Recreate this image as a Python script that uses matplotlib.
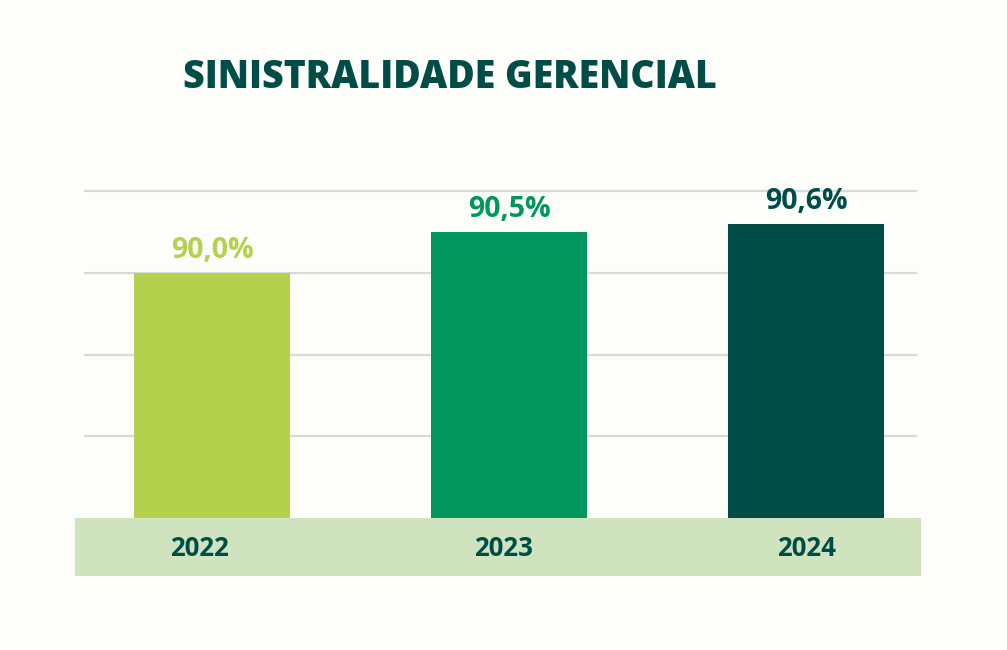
import matplotlib
matplotlib.use("Agg")
import matplotlib.pyplot as plt
from matplotlib.patches import Rectangle

years = ["2022", "2023", "2024"]
values = [90.0, 90.5, 90.6]
value_labels = ["90,0%", "90,5%", "90,6%"]
bar_colors = ["#b3d14c", "#00965e", "#004d48"]
grid_ticks = [88, 89, 90, 91]
title = "SINISTRALIDADE GERENCIAL"

BG = "#fdfdf9"
DARK = "#004d48"
BAND = "#cfe3bf"

W, H = 1007, 650
fig = plt.figure(figsize=(W / 100, H / 100), dpi=100, facecolor=BG)
ax_left, ax_right, ax_top, ax_bottom = 85, 916, 191, 518
ax = fig.add_axes([ax_left / W, 1 - ax_bottom / H, (ax_right - ax_left) / W, (ax_bottom - ax_top) / H])
ax.set_facecolor(BG)

x = list(range(len(years)))
ax.bar(x, values, width=0.525, color=bar_colors, zorder=3)
ax.set_ylim(87, 91)
ax.set_xlim(-0.428, 2.370)
ax.set_yticks(grid_ticks)
ax.yaxis.grid(True, color="#d9d9d9", linewidth=1.6, zorder=0)
for gl in ax.get_ygridlines():
    gl.set_clip_on(False)
ax.tick_params(left=False, bottom=False, labelleft=False, labelbottom=False)
for s in ax.spines.values():
    s.set_visible(False)

# value labels
for xi, v, lab, c in zip(x, values, value_labels, bar_colors):
    ax.annotate(lab, (xi, v), xytext=(0, 5.5), textcoords="offset points",
                ha="center", va="bottom", fontsize=20.5, color=c,
                family="Open Sans", fontweight="bold", zorder=4)

# bottom band with years
band_h = (576 - 518) / (ax_bottom - ax_top)
bx0 = (75 - ax_left) / (ax_right - ax_left)
bx1 = (921 - ax_left) / (ax_right - ax_left)
ax.add_patch(Rectangle((bx0, -band_h), bx1 - bx0, band_h, transform=ax.transAxes,
                       facecolor=BAND, edgecolor="none", clip_on=False, zorder=2))
label_offsets = [-13, -6, 0]
ytxt = -(548 - 518) / (ax_bottom - ax_top)
for xi, yr, off in zip(x, years, label_offsets):
    ax.annotate(yr, (xi, ytxt), xycoords=("data", "axes fraction"), xytext=(off * 0.72, 0),
                textcoords="offset points", ha="center", va="center",
                fontsize=18.5, fontweight="bold", family="Open Sans", color=DARK,
                annotation_clip=False)

fig.text(450 / W, 1 - 77 / H, title, ha="center", va="center", fontsize=27,
         fontweight="heavy", family="Open Sans", color=DARK)

fig.savefig("out.png", dpi=100, facecolor=BG)
